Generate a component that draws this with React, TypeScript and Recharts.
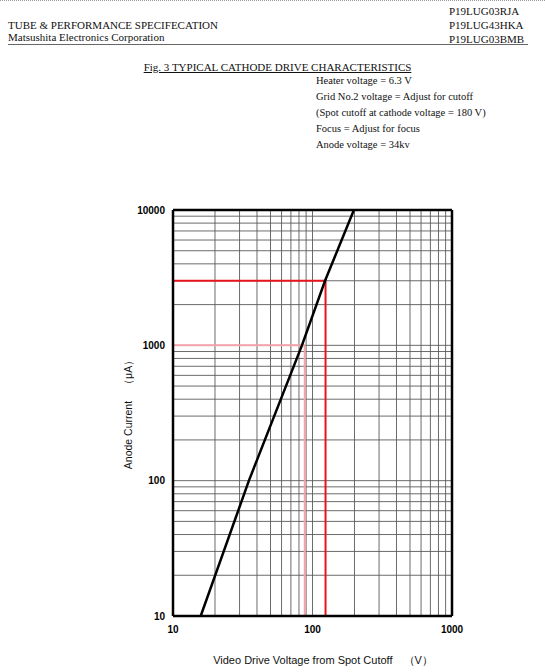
import { LineChart, Line, XAxis, YAxis, ReferenceLine } from "recharts";

// log axes
const xTicks = [10, 100, 1000];
const yTicks = [10, 100, 1000, 10000];
const xGrid = [20, 30, 40, 50, 60, 70, 80, 90, 100, 200, 300, 400, 500, 600, 700, 800, 900];
const yGrid = [
  20, 30, 40, 50, 60, 70, 80, 90, 100,
  200, 300, 400, 500, 600, 700, 800, 900, 1000,
  2000, 3000, 4000, 5000, 6000, 7000, 8000, 9000,
];

// cathode drive curve
const driveVoltage = [15.8, 35, 84, 123, 198];
const anodeCurrent = [10, 100, 1000, 3000, 10000];

// read-off guides (red at 3000 uA, pink at 1000 uA)
const redGuide = { v: 124, i: 3000 };
const pinkGuide = { v: 88, i: 1000 };

const curve = driveVoltage.map((v, k) => ({ v, i: anodeCurrent[k] }));

const serif = "'Liberation Serif', 'Times New Roman', serif";
const sans = "'Liberation Sans', Arial, sans-serif";

const specLines = [
  "Heater voltage = 6.3 V",
  "Grid No.2 voltage = Adjust for cutoff",
  "(Spot cutoff at cathode voltage = 180 V)",
  "Focus = Adjust for focus",
  "Anode voltage = 34kv",
];
const partNos = ["P19LUG03RJA", "P19LUG43HKA", "P19LUG03BMB"];

const tickStyle = { fill: "#000", fontSize: 10, fontWeight: 700, fontFamily: sans };

export default function App() {
  return (
    <div style={{ position: "absolute", left: 0, top: 0, width: 545, height: 672, background: "#fff", fontFamily: serif, color: "#111" }}>
      <div style={{ position: "absolute", left: 0, top: 0, width: 545, borderTop: "1px dotted #999" }} />
      <div style={{ position: "absolute", left: 8, top: 19, fontSize: 11 }}>TUBE &amp; PERFORMANCE SPECIFECATION</div>
      <div style={{ position: "absolute", left: 8, top: 31, fontSize: 11 }}>Matsushita Electronics Corporation</div>
      <div style={{ position: "absolute", left: 8, top: 44, width: 520, borderTop: "1px solid #666" }} />
      {partNos.map((p, k) => (
        <div key={p} style={{ position: "absolute", left: 449, top: 5 + k * 14, fontSize: 11 }}>{p}</div>
      ))}
      <div style={{ position: "absolute", left: 0, width: 555, top: 61, textAlign: "center", fontSize: 11, textDecoration: "underline" }}>
        Fig. 3 TYPICAL CATHODE DRIVE CHARACTERISTICS
      </div>
      {specLines.map((s, k) => (
        <div key={s} style={{ position: "absolute", left: 316, top: 75 + k * 16, fontSize: 10.5 }}>{s}</div>
      ))}

      <LineChart
        width={545}
        height={672}
        data={curve}
        margin={{ top: 210, right: 93, bottom: 26, left: 133 }}
        style={{ position: "absolute", left: 0, top: 0 }}
      >
        <XAxis
          dataKey="v"
          type="number"
          scale="log"
          domain={[10, 1000]}
          ticks={xTicks}
          allowDataOverflow
          axisLine={false}
          tickLine={false}
          tickMargin={4}
          height={30}
          tick={tickStyle}
        />
        <YAxis
          dataKey="i"
          type="number"
          scale="log"
          domain={[10, 10000]}
          ticks={yTicks}
          allowDataOverflow
          axisLine={false}
          tickLine={false}
          width={40}
          tick={tickStyle}
        />
        {xGrid.map((v) => (
          <ReferenceLine key={"gx" + v} x={v} stroke="#5a5a5a" strokeWidth={0.9} />
        ))}
        {yGrid.map((i) => (
          <ReferenceLine key={"gy" + i} y={i} stroke="#5a5a5a" strokeWidth={0.9} />
        ))}
        <ReferenceLine segment={[{ x: 10, y: pinkGuide.i }, { x: pinkGuide.v, y: pinkGuide.i }]} stroke="#f4a3aa" strokeWidth={2} />
        <ReferenceLine segment={[{ x: pinkGuide.v, y: pinkGuide.i }, { x: pinkGuide.v, y: 10 }]} stroke="#f4a3aa" strokeWidth={2} />
        <ReferenceLine segment={[{ x: 10, y: redGuide.i }, { x: redGuide.v, y: redGuide.i }]} stroke="#e8141c" strokeWidth={2} />
        <ReferenceLine segment={[{ x: redGuide.v, y: redGuide.i }, { x: redGuide.v, y: 10 }]} stroke="#e8141c" strokeWidth={2} />
        <ReferenceLine x={10} stroke="#000" strokeWidth={2.5} />
        <ReferenceLine x={1000} stroke="#000" strokeWidth={2.5} />
        <ReferenceLine y={10} stroke="#000" strokeWidth={2.5} />
        <ReferenceLine y={10000} stroke="#000" strokeWidth={2.5} />
        <Line
          type="linear"
          dataKey="i"
          stroke="#000"
          strokeWidth={2.5}
          dot={false}
          isAnimationActive={false}
        />
      </LineChart>

      <div style={{ position: "absolute", left: 129, top: 412, width: 0, height: 0 }}>
        <div style={{ position: "absolute", transform: "translate(-50%, -50%) rotate(-90deg)", whiteSpace: "nowrap", fontFamily: sans, fontSize: 10.5 }}>
          Anode Current　（μA）
        </div>
      </div>
      <div style={{ position: "absolute", left: 0, width: 646, top: 653, textAlign: "center", fontFamily: sans, fontSize: 11, whiteSpace: "nowrap" }}>
        Video Drive Voltage from Spot Cutoff　（V）
      </div>
    </div>
  );
}
